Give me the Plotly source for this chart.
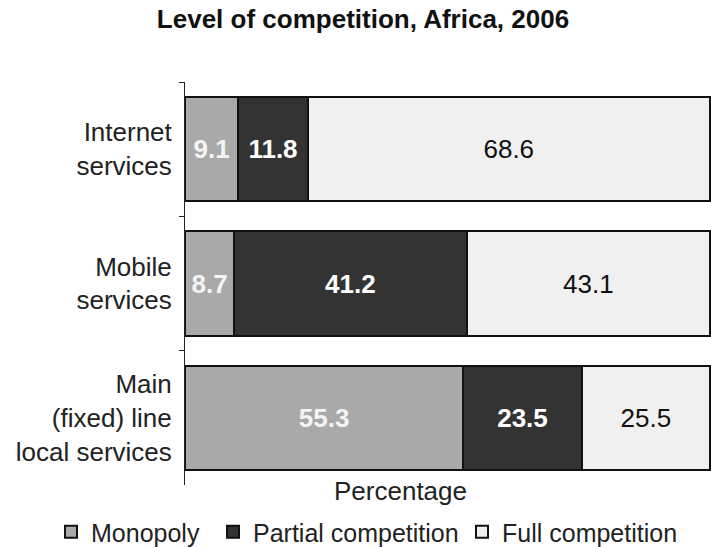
import plotly.graph_objects as go

# Share of countries by level of competition, Africa, 2006
categories = ["Internet<br>services", "Mobile<br>services", "Main<br>(fixed) line<br>local services"]
monopoly = [9.1, 8.7, 55.3]
partial = [11.8, 41.2, 23.5]
full = [68.6, 43.1, 25.5]

FONT = "Liberation Sans"
W, H = 711, 547
L, R, T, B = 185, 0, 82, 62

# name, values, fill, label colour, bold label, legend id, legend left edge (px)
series = [
    ("Monopoly", monopoly, "#a9a9a9", "#f4f4f4", True, "legend", 51),
    ("Partial competition", partial, "#333333", "white", True, "legend2", 213),
    ("Full competition", full, "#f0f0f0", "#111111", False, "legend3", 462),
]

fig = go.Figure()
legends = {}
for name, vals, color, tcolor, bold, leg, lx in series:
    fig.add_trace(go.Bar(
        y=categories, x=vals, name=name, orientation="h", legend=leg,
        marker=dict(color=color, line=dict(color="#111111", width=2)),
        text=[f"<b>{v:.1f}</b>" if bold else f"{v:.1f}" for v in vals],
        textposition="inside", insidetextanchor="middle",
        textfont=dict(color=tcolor, size=26, family=FONT),
        constraintext="none",
    ))
    legends[leg] = dict(orientation="h", xref="container", x=lx / W, xanchor="left",
                        yref="container", y=1 - 532 / H, yanchor="middle",
                        font=dict(size=25, color="#222222"), bgcolor="rgba(0,0,0,0)")

fig.update_layout(
    barmode="stack", barnorm="percent", bargap=0.225,
    width=W, height=H, showlegend=True,
    margin=dict(l=L, r=R, t=T, b=B, autoexpand=False),
    paper_bgcolor="white", plot_bgcolor="white",
    font=dict(family=FONT, color="#222222", size=25),
    title=dict(text="<b>Level of competition, Africa, 2006</b>", x=363 / W, xanchor="center",
               y=1 - 19 / H, yanchor="middle", font=dict(size=26, color="#111111")),
    xaxis=dict(range=[0, 100.2], showticklabels=False, showgrid=False, zeroline=False,
               ticks="", showline=False),
    yaxis=dict(autorange="reversed", showline=True, linecolor="#222222", linewidth=1,
               ticks="outside", tickson="boundaries", ticklen=5, tickcolor="#222222",
               showgrid=False, ticklabelstandoff=7, tickfont=dict(size=26, color="#222222")),
    annotations=[dict(text="Percentage", x=(400 - L) / (W - L), xref="paper",
                      y=-6 / (H - T - B), yref="paper", showarrow=False,
                      font=dict(size=26, color="#222222"),
                      xanchor="center", yanchor="middle")],
    **legends,
)

fig.write_html("out.html")
